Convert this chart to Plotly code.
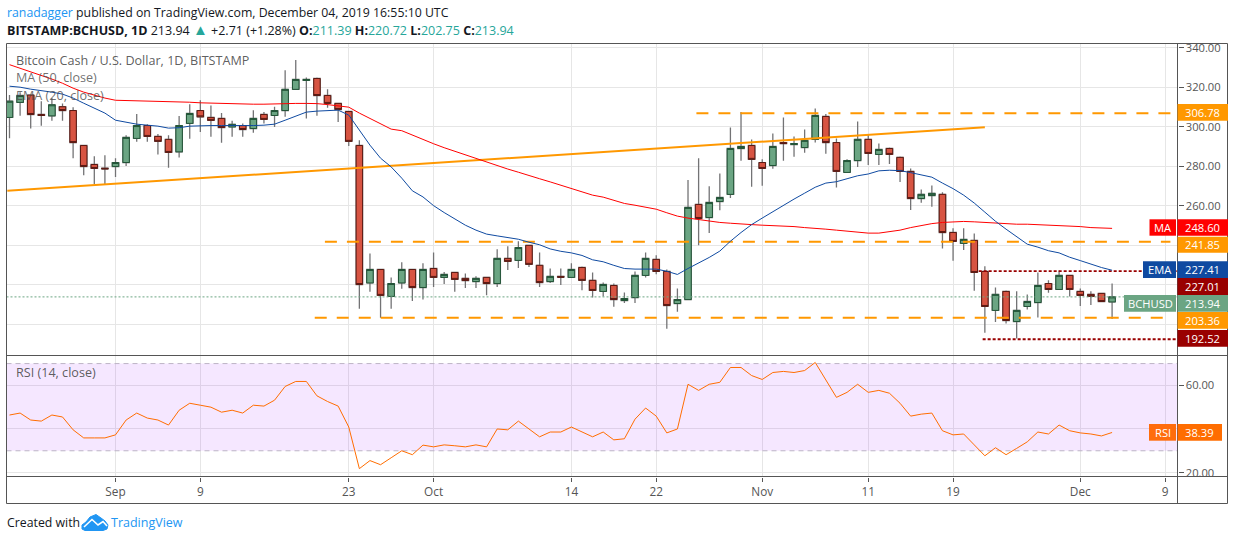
import pandas as pd
import plotly.graph_objects as go

W = 1234
H = 540

# OHLC, one value per day from 22 Aug 2019
opens = [304.7, 312.3, 316.0, 306.2, 305.5, 310.1, 308.2, 290.5, 280.9, 279.0,
         279.9, 281.9, 294.1, 300.6, 295.1, 293.6, 287.3, 301.7, 308.2, 304.7,
         304.2, 299.9, 300.6, 299.1, 306.2, 305.7, 308.2, 318.9, 323.4, 324.4,
         315.8, 311.8, 307.7, 290.5, 221.0, 227.8, 214.2, 221.0, 227.8, 218.7,
         228.3, 223.8, 226.3, 223.3, 221.7, 223.8, 220.7, 233.4, 232.4, 240.0,
         229.9, 221.7, 224.3, 223.8, 228.8, 222.3, 216.7, 219.7, 212.1, 213.6,
         224.8, 232.9, 226.8, 210.6, 212.6, 260.7, 254.1, 262.2, 265.8, 289.0,
         290.5, 281.9, 280.4, 292.0, 291.0, 289.5, 293.6, 305.2, 292.0, 276.9,
         282.9, 293.6, 286.0, 289.0, 284.5, 277.4, 263.7, 265.2, 265.8, 246.5,
         241.0, 242.5, 226.8, 207.1, 216.7, 201.5, 209.1, 211.1, 220.7, 217.7,
         224.8, 216.7, 215.2, 215.7, 211.39]
highs = [316.0, 317.5, 316.0, 312.9, 314.5, 311.8, 309.8, 290.5, 285.1, 285.6,
         284.0, 295.7, 306.4, 301.3, 296.3, 295.7, 305.4, 311.4, 313.4, 310.8,
         307.0, 303.0, 301.7, 308.4, 307.5, 310.1, 328.6, 333.7, 324.9, 324.9,
         318.9, 312.1, 308.0, 293.2, 235.9, 227.8, 223.8, 231.4, 227.8, 230.9,
         236.4, 226.5, 226.3, 225.8, 224.4, 223.8, 238.1, 239.6, 242.1, 240.0,
         236.4, 228.3, 228.3, 230.9, 229.3, 226.3, 221.2, 220.7, 216.2, 226.8,
         236.4, 235.0, 227.8, 218.2, 273.0, 284.0, 269.9, 276.4, 299.6, 307.4,
         293.6, 283.5, 296.6, 304.7, 295.1, 298.6, 309.2, 306.4, 294.1, 283.6,
         302.7, 296.3, 291.5, 289.5, 285.0, 278.9, 268.3, 270.3, 266.9, 248.6,
         248.6, 246.0, 229.5, 218.7, 217.2, 216.8, 215.2, 226.3, 222.4, 227.3,
         224.8, 218.2, 216.8, 215.7, 220.72]
lows = [294.2, 305.5, 299.1, 300.5, 303.0, 303.0, 284.0, 275.5, 271.0, 271.0,
        274.6, 280.2, 292.4, 292.4, 286.0, 279.2, 284.5, 293.9, 297.4, 294.9,
        291.9, 294.9, 294.9, 296.9, 301.7, 299.9, 305.0, 318.9, 304.2, 305.5,
        309.6, 302.4, 290.3, 207.9, 216.5, 203.4, 207.9, 218.0, 211.9, 212.6,
        219.0, 220.4, 216.5, 218.5, 218.5, 214.8, 219.0, 227.5, 228.6, 229.1,
        219.0, 221.0, 219.9, 223.8, 217.3, 213.6, 214.2, 208.9, 210.9, 210.9,
        223.8, 225.4, 197.8, 206.4, 212.6, 240.1, 246.3, 257.8, 264.0, 282.8,
        269.6, 270.1, 278.7, 282.8, 284.8, 286.8, 292.0, 286.3, 269.3, 276.9,
        279.7, 280.7, 280.7, 281.2, 272.1, 257.9, 261.5, 259.5, 238.4, 232.2,
        237.6, 217.0, 195.8, 201.3, 200.5, 192.9, 207.6, 203.5, 216.0, 217.7,
        214.2, 209.3, 209.8, 211.6, 202.75]
closes = [312.9, 315.8, 306.2, 305.7, 311.1, 308.2, 292.0, 279.9, 278.9, 278.7,
          281.9, 294.6, 300.6, 295.1, 292.6, 287.0, 300.6, 306.7, 305.0, 303.2,
          299.6, 301.2, 298.6, 304.2, 303.7, 308.2, 318.9, 323.9, 323.9, 315.8,
          311.8, 308.7, 292.6, 220.2, 227.8, 214.7, 220.7, 227.8, 218.7, 227.8,
          223.8, 225.3, 222.8, 222.2, 223.3, 220.7, 233.4, 231.9, 238.9, 230.4,
          221.2, 224.3, 223.9, 227.8, 222.3, 217.2, 220.2, 212.6, 213.1, 224.8,
          233.4, 226.8, 209.6, 212.6, 259.2, 253.6, 261.7, 264.2, 289.0, 290.0,
          283.5, 278.9, 290.0, 291.5, 291.5, 293.1, 305.7, 292.0, 277.4, 282.9,
          293.6, 286.5, 288.5, 286.0, 277.4, 263.7, 265.8, 266.3, 246.5, 242.0,
          243.0, 226.3, 209.1, 215.2, 202.0, 207.1, 211.6, 219.7, 217.7, 224.8,
          217.7, 214.7, 214.2, 211.6, 213.94]

ema20 = [320.5, 320.0, 319.0, 318.3, 317.5, 316.5, 314.5, 311.9, 309.4, 306.9,
         303.3, 302.3, 301.3, 300.8, 300.3, 299.3, 299.5, 300.3, 300.6, 300.6,
         300.6, 300.6, 300.3, 300.6, 300.8, 301.3, 303.3, 305.4, 307.4, 307.9,
         308.2, 308.4, 305.9, 298.3, 290.7, 284.1, 279.7, 274.0, 267.6, 264.5,
         260.1, 256.6, 253.3, 250.2, 247.7, 245.7, 244.8, 244.0, 243.1, 241.6,
         240.3, 238.2, 237.0, 236.2, 234.9, 232.7, 231.7, 229.9, 228.3, 228.0,
         228.1, 228.0, 226.9, 225.3, 228.3, 231.0, 233.9, 237.1, 242.1, 246.5,
         250.5, 253.8, 257.1, 260.2, 263.4, 266.4, 269.4, 271.5, 272.2, 273.7,
         275.2, 276.1, 277.7, 278.0, 277.8, 276.8, 275.8, 274.5, 271.5, 268.7,
         265.4, 261.4, 256.8, 252.2, 248.2, 244.4, 240.6, 239.1, 237.3, 236.2,
         234.0, 232.3, 230.5, 228.8, 227.41]
ma50 = [331.4, 329.6, 327.6, 326.1, 324.1, 322.0, 319.5, 317.5, 316.0, 314.5,
        313.4, 313.3, 313.2, 313.1, 312.9, 312.9, 312.8, 312.4, 312.1, 311.9,
        311.8, 311.7, 311.4, 311.4, 311.4, 311.6, 311.8, 311.8, 311.8, 311.7,
        311.2, 310.7, 309.9, 306.9, 304.3, 301.3, 298.8, 298.0, 295.7, 293.7,
        291.4, 289.4, 287.6, 285.6, 283.9, 282.1, 280.3, 278.6, 277.0, 275.5,
        273.7, 272.1, 270.5, 268.9, 267.2, 265.4, 264.4, 262.9, 261.2, 260.3,
        259.3, 258.3, 256.5, 254.8, 253.8, 253.0, 252.2, 251.6, 251.2, 250.7,
        250.5, 250.2, 250.0, 249.7, 249.5, 249.0, 248.7, 248.2, 247.7, 247.2,
        246.7, 246.2, 246.2, 246.9, 247.7, 249.0, 250.0, 251.0, 251.6, 251.9,
        252.1, 251.9, 251.6, 251.2, 251.0, 250.7, 250.7, 250.5, 250.2, 250.0,
        249.7, 249.5, 249.0, 248.9, 248.6]
rsi14 = [46.4, 47.3, 44.1, 43.6, 46.4, 45.5, 39.6, 35.9, 35.9, 35.9,
         37.3, 44.1, 47.3, 45.0, 44.1, 41.8, 48.6, 51.8, 50.9, 50.0,
         47.7, 48.6, 47.3, 50.9, 50.5, 53.2, 59.5, 61.8, 61.8, 55.2,
         52.6, 50.5, 40.9, 21.8, 25.5, 23.6, 26.8, 30.0, 28.2, 32.6,
         31.8, 32.7, 32.3, 31.8, 32.7, 31.8, 40.0, 39.6, 43.6, 40.0,
         36.4, 38.6, 38.6, 40.9, 38.6, 36.4, 38.6, 35.0, 35.5, 44.5,
         49.6, 45.9, 38.2, 40.0, 60.5, 57.7, 60.5, 61.4, 68.2, 68.2,
         64.5, 62.7, 65.9, 66.4, 65.9, 66.8, 70.5, 62.7, 54.5, 56.8,
         60.5, 56.8, 57.7, 56.4, 51.8, 45.9, 46.8, 47.3, 39.2, 37.3,
         37.7, 32.7, 27.7, 31.4, 28.2, 31.1, 34.1, 38.6, 37.7, 41.8,
         39.2, 38.2, 37.7, 36.8, 38.39]

dates = pd.date_range("2019-08-22", periods=len(closes), freq="D")

# support / resistance levels and where each one starts
orange_levels = [306.78, 241.85, 203.36]
orange_starts = ["2019-10-25 19:00", "2019-09-20 18:00", "2019-09-19 19:00"]
red_levels = [227.01, 192.52]
red_starts = ["2019-11-21 10:00", "2019-11-21 19:00"]
trend_dates = ["2019-08-21 19:00", "2019-11-22 00:00"]
trend_values = [267.6, 299.8]

tick_dates = ["2019-09-01", "2019-09-09", "2019-09-23", "2019-10-01", "2019-10-14", "2019-10-22",
              "2019-11-01", "2019-11-11", "2019-11-19", "2019-12-01", "2019-12-09"]
tick_labels = ["Sep", "9", "23", "Oct", "14", "22", "Nov", "11", "19", "Dec", "9"]
price_ticks = [200, 220, 240, 260, 280, 300, 320, 340]
price_labels = ["", "", "", "260.00", "280.00", "300.00", "320.00", "340.00"]
rsi_ticks = [20, 40, 60]
rsi_labels = ["20.00", "", "60.00"]

x_start = "2019-08-21 17:13"
x_end = "2019-12-10 04:05"
FONT = "Open Sans"
GRID = "#E6E6E6"
FRAME = "#555555"
ORANGE = "#FF9800"
DARK_RED = "#990000"
BLUE = "#0F4AA1"
UP = "#6BA583"
DOWN = "#D75442"


def px(x):
    return x / W


def py(y):
    return 1 - y / H


fig = go.Figure()

# Wicks first, in gray, then the bodies on top with dark borders
body_high = [max(o, c) for o, c in zip(opens, closes)]
body_low = [min(o, c) for o, c in zip(opens, closes)]
fig.add_trace(go.Candlestick(
    x=dates, open=opens, high=highs, low=lows, close=closes,
    increasing=dict(line=dict(color="#737375", width=1.3), fillcolor=UP),
    decreasing=dict(line=dict(color="#737375", width=1.3), fillcolor=DOWN),
    whiskerwidth=0, yaxis="y",
))

# Levels and the trend line sit under the bodies
fig.add_trace(go.Scatter(x=[x_start, x_end], y=[closes[-1], closes[-1]], mode="lines",
                         line=dict(color=UP, width=1, dash="2px,2px")))
fig.add_trace(go.Scatter(x=trend_dates, y=trend_values, mode="lines",
                         line=dict(color=ORANGE, width=2)))
for level, start in zip(orange_levels, orange_starts):
    fig.add_trace(go.Scatter(x=[start, "2019-12-09 12:00"], y=[level, level], mode="lines",
                             line=dict(color=ORANGE, width=2, dash="12px,10px")))
for level, start in zip(red_levels, red_starts):
    fig.add_trace(go.Scatter(x=[start, x_end], y=[level, level], mode="lines",
                             line=dict(color=DARK_RED, width=1.8, dash="3px,2px")))

fig.add_trace(go.Candlestick(
    x=dates, open=opens, high=body_high, low=body_low, close=closes,
    increasing=dict(line=dict(color="#225437", width=1), fillcolor=UP),
    decreasing=dict(line=dict(color="#5B1A13", width=1), fillcolor=DOWN),
    whiskerwidth=0, yaxis="y",
))

fig.add_trace(go.Scatter(x=dates, y=ma50, mode="lines", line=dict(color="#FF0000", width=1)))
fig.add_trace(go.Scatter(x=dates, y=ema20, mode="lines", line=dict(color=BLUE, width=1)))
fig.add_trace(go.Scatter(x=dates, y=rsi14, mode="lines", yaxis="y2",
                         line=dict(color="#FF6D00", width=1)))

fig.update_traces(hoverinfo="skip")

shapes = [
    # RSI band
    dict(type="rect", xref="x", yref="y2", x0=x_start, x1=x_end, y0=30, y1=70,
         fillcolor="rgba(153,21,255,0.1)", line=dict(width=0), layer="between"),
    dict(type="line", xref="x", yref="y2", x0=x_start, x1=x_end, y0=70, y1=70,
         line=dict(color="#BDB4C6", width=1, dash="5px,4px"), layer="between"),
    dict(type="line", xref="x", yref="y2", x0=x_start, x1=x_end, y0=30, y1=30,
         line=dict(color="#BDB4C6", width=1, dash="5px,4px"), layer="between"),
    # frame
    dict(type="rect", xref="paper", yref="paper", x0=px(6.5), x1=px(1227.5), y0=py(503.5), y1=py(43.5),
         line=dict(color=FRAME, width=1)),
    dict(type="line", xref="paper", yref="paper", x0=px(1177.5), x1=px(1177.5), y0=py(503.5), y1=py(43.5),
         line=dict(color=FRAME, width=1)),
    dict(type="line", xref="paper", yref="paper", x0=px(6.5), x1=px(1227.5), y0=py(355.5), y1=py(355.5),
         line=dict(color=FRAME, width=1)),
    dict(type="line", xref="paper", yref="paper", x0=px(6.5), x1=px(1227.5), y0=py(476.5), y1=py(476.5),
         line=dict(color=FRAME, width=1)),
]

annotations = []


def add_text(x, y, text, size=12, color="#131722", anchor="left"):
    annotations.append(dict(xref="paper", yref="paper", x=px(x), y=py(y), text=text, showarrow=False,
                            xanchor=anchor, yanchor="middle", borderpad=0,
                            font=dict(family=FONT, size=size, color=color)))


def pill(x0, x1, y0, y1, color, text):
    shapes.append(dict(type="rect", xref="paper", yref="paper", x0=px(x0), x1=px(x1), y0=py(y1), y1=py(y0),
                       fillcolor=color, line=dict(width=0)))
    add_text((x0 + x1) / 2, (y0 + y1) / 2, text, size=11.2, color="#FFFFFF", anchor="center")


pill(1177.5, 1228, 104, 120.7, ORANGE, "306.78")
pill(1149.5, 1176, 219.3, 235.7, "#FF0000", "MA")
pill(1177.5, 1228, 219.3, 235.7, "#FF0000", "248.60")
pill(1177.5, 1228, 236.7, 252.7, ORANGE, "241.85")
pill(1143, 1176, 261.3, 278, BLUE, "EMA")
pill(1177.5, 1228, 261.3, 278, BLUE, "227.41")
pill(1177.5, 1228, 278, 295, DARK_RED, "227.01")
pill(1124, 1176, 295, 311.7, UP, "BCHUSD")
pill(1177.5, 1228, 295, 311.7, UP, "213.94")
pill(1177.5, 1228, 312, 328.7, ORANGE, "203.36")
pill(1177.5, 1228, 330, 346.7, DARK_RED, "192.52")
pill(1149, 1176, 424, 440.7, "#FF6D0C", "RSI")
pill(1177.5, 1222, 424, 440.7, "#FF6D00", "38.39")

# Header and pane captions
add_text(5.5, 13, '<span style="color:#2196F3">ranadagger</span> published on TradingView.com, December 04, 2019 16:55:10 UTC', size=12.3)
teal = '<span style="color:#26A69A">%s</span>'
add_text(5.5, 29, '<b>BITSTAMP:BCHUSD, 1D</b> 213.94 <span style="color:#26A69A;font-size:15px">▲</span> +2.71 (+1.28%) <b>O:</b>'
         + (teal % "211.39") + ' <b>H:</b>' + (teal % "220.72") + ' <b>L:</b>' + (teal % "202.75")
         + ' <b>C:</b>' + (teal % "213.94"), size=12.5)
add_text(14.5, 60.5, "Bitcoin Cash / U.S. Dollar, 1D, BITSTAMP", size=12.6, color="rgba(75,75,75,0.9)")
add_text(14.5, 78, "MA (50, close)", size=12.6, color="rgba(75,75,75,0.8)")
add_text(14.5, 95, "EMA (20, close)", size=12.6, color="rgba(75,75,75,0.8)")
add_text(14.5, 372.5, "RSI (14, close)", size=12.6, color="rgba(75,75,75,0.9)")
add_text(5.5, 522.5, "Created with", size=12.3)
add_text(110, 522.5, '<span style="color:#2196F3">TradingView</span>', size=12.5)

# Logo, a cloud with a white zigzag
cloud = [(82, 529), (82, 525), (86, 522), (90, 517), (96, 514.5), (101, 518), (105, 521), (108, 525), (107, 529), (103, 530.5), (85, 530.5)]
shapes.append(dict(type="path", xref="paper", yref="paper",
                   path="M " + " L ".join(f"{px(a):.5f},{py(b):.5f}" for a, b in cloud) + " Z",
                   fillcolor="#2196F3", line=dict(color="#2196F3", width=1)))
zigzag = [(84, 527), (92, 519.5), (98, 525), (103, 521.5), (107, 526)]
shapes.append(dict(type="path", xref="paper", yref="paper",
                   path="M " + " L ".join(f"{px(a):.5f},{py(b):.5f}" for a, b in zigzag),
                   line=dict(color="#FFFFFF", width=1.6)))

axis_font = dict(family=FONT, size=11.2, color="#555555")
fig.update_layout(
    width=W,
    height=H,
    margin=dict(l=0, r=0, t=0, b=0),
    autosize=False,
    paper_bgcolor="#FFFFFF",
    plot_bgcolor="#FFFFFF",
    showlegend=False,
    boxgap=0.39,
    boxgroupgap=0,
    xaxis=dict(domain=[px(6.5), px(1177.5)], anchor="y2", range=[x_start, x_end], type="date", automargin=False,
               rangeslider=dict(visible=False), tickmode="array", tickvals=tick_dates, ticktext=tick_labels,
               showgrid=True, gridcolor=GRID, gridwidth=1, ticks="outside", ticklen=4, tickcolor=FRAME,
               tickfont=dict(family=FONT, size=11.8, color="#555555"), zeroline=False),
    yaxis=dict(domain=[py(355.5), py(43.5)], range=[184.3, 342.1], side="right", anchor="x", automargin=False,
               tickmode="array", tickvals=price_ticks, ticktext=price_labels, showgrid=True, gridcolor=GRID,
               gridwidth=1, ticks="outside", ticklen=5, tickcolor=FRAME, tickfont=axis_font, zeroline=False),
    yaxis2=dict(domain=[py(476.5), py(355.5)], range=[18.2, 73.7], side="right", anchor="x", automargin=False,
                tickmode="array", tickvals=rsi_ticks, ticktext=rsi_labels, showgrid=True, gridcolor=GRID,
                gridwidth=1, ticks="outside", ticklen=5, tickcolor=FRAME, tickfont=axis_font, zeroline=False),
    shapes=shapes,
    annotations=annotations,
)

fig.write_html("out.html", post_script="document.body.style.margin='0';", config={"displayModeBar": False})
